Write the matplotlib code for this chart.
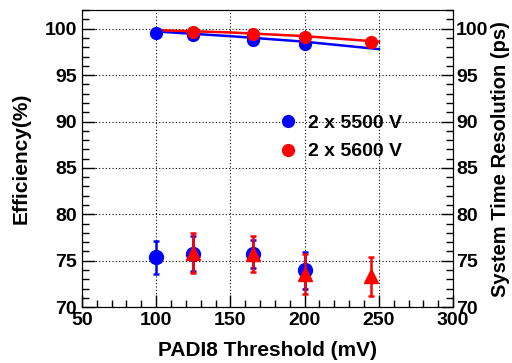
import numpy as np
import matplotlib.pyplot as plt
from matplotlib.ticker import MultipleLocator

plt.rcParams['font.family'] = ['Liberation Sans', 'DejaVu Sans']
plt.rcParams['font.weight'] = 'bold'

# efficiency (%)
thr_5500 = [100, 125, 165, 200]
eff_5500 = [99.5, 99.3, 98.8, 98.3]
thr_5600 = [125, 165, 200, 245]
eff_5600 = [99.6, 99.4, 99.1, 98.6]

# fitted curves
fit_x = [100, 150, 200, 250]
fit_5500 = [99.7, 99.2, 98.6, 97.8]
fit_5600 = [99.85, 99.6, 99.2, 98.6]

# system time resolution (ps)
tres_5500 = [75.35, 75.75, 75.7, 73.95]
tres_5500_err = [1.8, 1.9, 1.5, 2.0]
tres_5600 = [75.8, 75.7, 73.6, 73.3]
tres_5600_err = [2.15, 1.95, 2.15, 2.1]

legend_labels = ['2 x 5500 V', '2 x 5600 V']

blue = (0, 0, 1)
red = (1, 0, 0)

fig = plt.figure(figsize=(5.12, 3.63), dpi=100)
ax = fig.add_axes([0.160, 0.154, 0.725, 0.818])

ax.plot(fit_x, fit_5500, color=blue, lw=1.8, zorder=2)
ax.plot(fit_x, fit_5600, color=red, lw=1.8, zorder=2)
ax.plot(thr_5500, eff_5500, 'o', color=blue, ms=8.5, zorder=3)
ax.plot(thr_5600, eff_5600, 'o', color=red, ms=8.5, zorder=4)

ax.errorbar(thr_5500, tres_5500, yerr=tres_5500_err, fmt='o', color=blue,
            ms=10, elinewidth=1.8, capsize=2, capthick=1.8, zorder=3)
ax.errorbar(thr_5600, tres_5600, yerr=tres_5600_err, fmt='^', color=red,
            ms=10, elinewidth=1.8, capsize=2, capthick=1.8, zorder=4)

ax.set_xlim(50, 300)
ax.set_ylim(70, 102)
ax.xaxis.set_major_locator(MultipleLocator(50))
ax.xaxis.set_minor_locator(MultipleLocator(10))
ax.yaxis.set_major_locator(MultipleLocator(5))
ax.yaxis.set_minor_locator(MultipleLocator(1))
ax.grid(which='major', color='black', ls=(0, (1, 2)), lw=0.8)
ax.tick_params(which='both', direction='in', labelsize=14, width=1, top=False, right=False)
ax.tick_params(which='major', length=9)
ax.tick_params(which='minor', length=5)
ax.set_xlabel('PADI8 Threshold (mV)', fontsize=15, fontweight='bold', labelpad=9)
ax.set_ylabel('Efficiency(%)', fontsize=15, fontweight='bold', labelpad=10)

ax2 = ax.twinx()
ax2.set_ylim(70, 102)
ax2.yaxis.set_major_locator(MultipleLocator(5))
ax2.yaxis.set_minor_locator(MultipleLocator(1))
ax2.tick_params(which='both', direction='in', labelsize=14, width=1, pad=2)
ax2.tick_params(which='major', length=9)
ax2.tick_params(which='minor', length=5)
ax2.set_ylabel('System Time Resolution (ps)', fontsize=14.5, fontweight='bold', labelpad=2)

h1, = ax.plot([], [], 'o', color=blue, ms=8.5)
h2, = ax.plot([], [], 'o', color=red, ms=8.5)
ax.legend([h1, h2], legend_labels, loc='upper left', bbox_to_anchor=(0.495, 0.675),
          frameon=False, fontsize=14, handletextpad=0.3, labelspacing=0.55,
          handlelength=1.5, borderaxespad=0)

fig.savefig('out.png', dpi=100)
